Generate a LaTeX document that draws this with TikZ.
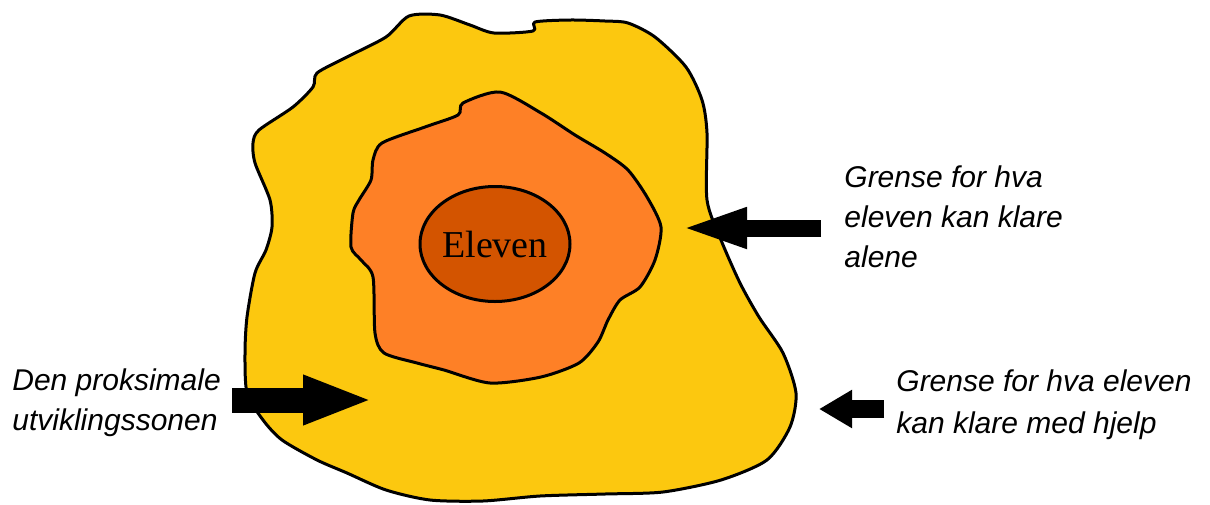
\documentclass[tikz,border=0pt]{standalone}
\usepackage{fontspec}
\setmainfont{Liberation Serif}
\newfontfamily\labfont{Liberation Sans}
\usetikzlibrary{shapes.geometric,arrows.meta}
\definecolor{zoneyellow}{RGB}{252,200,15}
\definecolor{zoneorange}{RGB}{254,128,38}
\definecolor{coredark}{RGB}{211,84,0}
\begin{document}
\begin{tikzpicture}[x=0.5pt,y=-0.5pt,
  blob/.style={draw=black,line width=1.5pt,line join=round},
  label/.style={font=\labfont\itshape\fontsize{15}{20}\selectfont,align=left,inner sep=0pt,anchor=west},
  fatarrow/.style={line width=#1}
]
\useasboundingbox (0,0) rectangle (1210,504);
% outer zone
\draw[blob,fill=zoneyellow] plot[smooth cycle,tension=0.45] coordinates {
 (409,16) (440,15) (470,25) (494,33) (533,31) (535,22) (570,20) (605,21) (628,23)
 (655,37) (686,67) (702,100) (707,133) (707,200) (721,240) (740,283) (759,317)
 (783,353) (796,393) (790,427) (767,460) (721,480) (663,492) (605,494) (540,496)
 (483,501) (430,500) (386,490) (347,473) (317,460) (282,440) (263,420) (247,393)
 (245,353) (247,317) (255,273) (266,250) (272,227) (270,200) (255,163) (253,143)
 (259,130) (293,107) (313,87) (317,73) (347,57) (386,37)};
% inner zone
\draw[blob,fill=zoneorange] plot[smooth cycle,tension=0.45] coordinates {
 (500,92) (541,113) (575,135) (605,153) (628,170) (647,197) (661,227) (655,260)
 (640,287) (620,300) (608,320) (598,342) (579,363) (541,377) (490,383) (444,370)
 (417,363) (384,353) (375,333) (373,277) (361,260) (351,247) (353,213) (359,200)
 (371,180) (373,160) (382,143) (425,127) (458,115) (463,103)};
% core
\node[ellipse,draw=black,line width=1.5pt,fill=coredark,minimum width=75pt,minimum height=57.5pt,inner sep=0pt,font=\fontsize{19}{22}\selectfont] (core) at (495,244) {Eleven};
% arrows
\coordinate (a1tail) at (232,400);
\coordinate (a1tip) at (373,400);
\coordinate (a2tail) at (821,228);
\coordinate (a2tip) at (679,228);
\coordinate (a3tail) at (884,409);
\coordinate (a3tip) at (819,409);
\draw[line width=12.5pt,-{Triangle[length=35pt,width=22.5pt]}] (a1tail) -- (a1tip);
\draw[line width=8.5pt,-{Triangle[length=34pt,width=18pt]}] (a2tail) -- (a2tip);
\draw[line width=9pt,-{Triangle[length=16.5pt,width=18pt]}] (a3tail) -- (a3tip);
% labels
\node[label] (lzone) at (12,403) {Den proksimale\\utviklingssonen};
\node[label] (lalone) at (844,217) {Grense for hva\\eleven kan klare\\alene};
\node[label,font=\labfont\itshape\fontsize{15}{21}\selectfont] (lhelp) at (896,405) {Grense for hva eleven\\kan klare med hjelp};
\end{tikzpicture}
\end{document}
